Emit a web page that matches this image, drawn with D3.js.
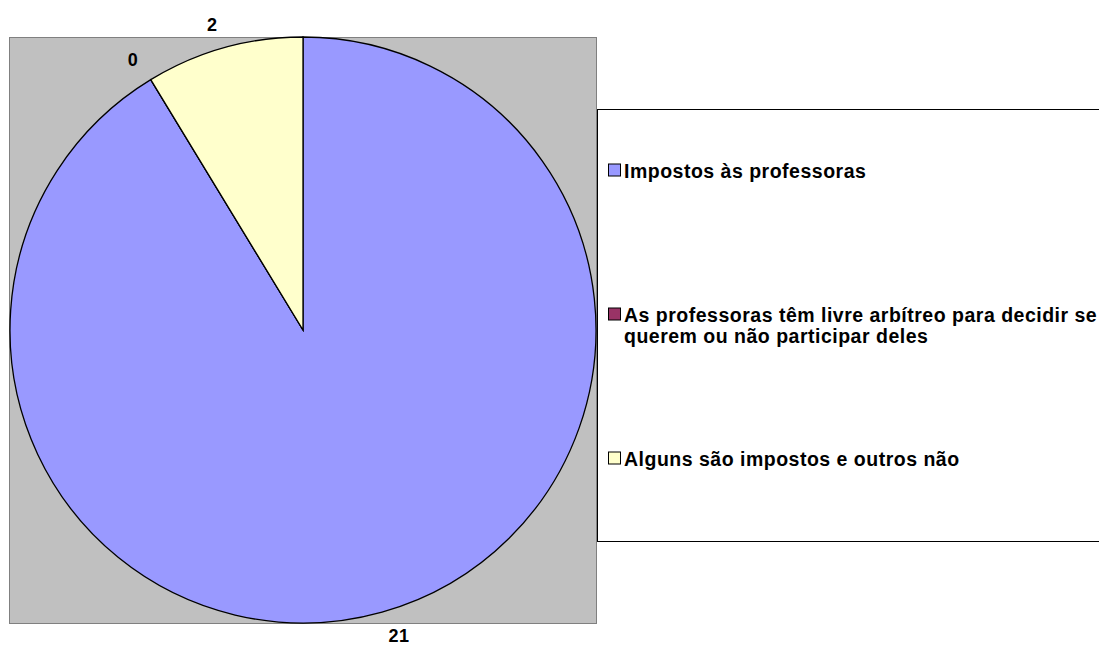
<!DOCTYPE html>
<html>
<head>
<meta charset="utf-8">
<script src="https://cdn.jsdelivr.net/npm/d3@7"></script>
<style>
	html, body { margin: 0; padding: 0; background: #fff; overflow: hidden; }
	svg { display: block; font-family: Arial, 'Liberation Sans', sans-serif; font-weight: bold; }
</style>
</head>
<body>
<svg id="chart" width="1099" height="645"></svg>
<script>
// categories and values
const categories = [
	['Impostos às professoras'],
	['As professoras têm livre arbítreo para decidir se', 'querem ou não participar deles'],
	['Alguns são impostos e outros não'],
];
const values = [21, 0, 2];
const colors = ['#9999FF', '#993366', '#FFFFCC'];

const svg = d3.select('#chart');

// plot area
const plot = { x: 9, y: 37, w: 587, h: 586 };
svg.append('rect')
	.attr('x', plot.x + 0.5).attr('y', plot.y + 0.5)
	.attr('width', plot.w).attr('height', plot.h)
	.attr('fill', '#C0C0C0').attr('stroke', '#808080').attr('stroke-width', 1);

const cx = 303;
const cy = 330;
const radius = 293;

const pie = d3.pie().sort(null).value(d => d)(values);
const arc = d3.arc().innerRadius(0).outerRadius(radius);
const labelArc = d3.arc().innerRadius(317).outerRadius(317);

const gPie = svg.append('g').attr('transform', `translate(${cx},${cy})`);
gPie.selectAll('path')
	.data(pie).enter().append('path')
	.attr('d', arc)
	.attr('fill', (d, i) => colors[i])
	.attr('stroke', '#000').attr('stroke-width', 1.3);

// data labels sit outside the pie, anchored away from the centre
gPie.selectAll('text')
	.data(pie).enter().append('text')
	.attr('transform', d => `translate(${labelArc.centroid(d)})`)
	.attr('text-anchor', d => labelArc.centroid(d)[0] > 0 ? 'start' : 'end')
	.attr('dy', '0.36em')
	.attr('font-size', 18).attr('letter-spacing', 0.5).attr('fill', '#000')
	.text(d => d.data);

// legend
const legend = svg.append('g');
legend.append('rect')
	.attr('x', 597.5).attr('y', 109.5).attr('width', 520).attr('height', 432)
	.attr('fill', '#fff').attr('stroke', '#000').attr('stroke-width', 1);

const legendY = [170.5, 314.5, 458.5];
const rows = legend.selectAll('g.row')
	.data(categories).enter().append('g').classed('row', true)
	.attr('transform', (d, i) => `translate(608,${legendY[i]})`);
rows.append('rect')
	.attr('x', 0.5).attr('y', -6.5).attr('width', 12).attr('height', 12)
	.attr('fill', (d, i) => colors[i]).attr('stroke', '#000').attr('stroke-width', 1);
rows.each(function (lines) {
	const t = d3.select(this).append('text')
		.attr('x', 16).attr('y', 7)
		.attr('font-size', 19.5).attr('letter-spacing', 0.5).attr('fill', '#000');
	lines.forEach((line, j) => {
		t.append('tspan').attr('x', 16).attr('dy', j ? 21 : 0).text(line);
	});
});
</script>
</body>
</html>
